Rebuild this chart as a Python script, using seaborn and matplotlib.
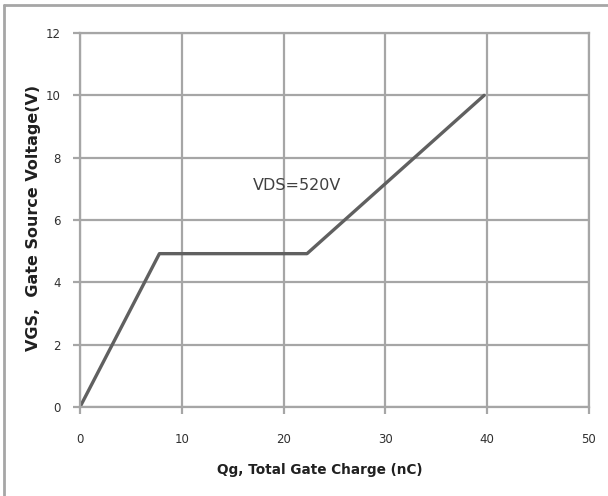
import numpy as np
import pandas as pd
import matplotlib
matplotlib.use('Agg')
import matplotlib.pyplot as plt
import seaborn as sns
from matplotlib.lines import Line2D

qg = [0, 7.8, 22.3, 39.7]
vgs = [0, 4.92, 4.92, 10]
x_ticks = [0, 10, 20, 30, 40, 50]
y_ticks = [0, 2, 4, 6, 8, 10, 12]

sns.set_style('white')
plt.rcParams['font.family'] = ['DejaVu Sans']

grid_c = '#a6a6a6'
df = pd.DataFrame({'Qg': qg, 'VGS': vgs})

fig = plt.figure(figsize=(6.08, 4.96), dpi=100)
ax = fig.add_axes([80/608, 1-407/496, (589-80)/608, (407-33)/496])
sns.lineplot(data=df, x='Qg', y='VGS', ax=ax, color='#606060', linewidth=2.4, sort=False)

ax.set_xlim(0, 50)
ax.set_ylim(0, 12)
ax.set_xticks(x_ticks)
ax.set_yticks(y_ticks)
ax.grid(True, color=grid_c, linewidth=1.6)
for s in ax.spines.values():
    s.set_color(grid_c)
    s.set_linewidth(1.6)
ax.tick_params(axis='both', length=5, width=1.6, color=grid_c, labelsize=8.5, direction='out',
               bottom=True, left=True, labelcolor='#303030')
ax.tick_params(axis='x', pad=14)
ax.tick_params(axis='y', pad=9)
ax.set_xlabel('Qg, Total Gate Charge (nC)', fontsize=9.8, fontweight='bold', color='#202020')
ax.set_ylabel('VGS,  Gate Source Voltage(V)', fontsize=11.5, fontweight='bold', color='#202020')
ax.xaxis.label.set_va('center')
ax.yaxis.label.set_va('center')
ax.xaxis.set_label_coords(0.4705, -0.168)
ax.yaxis.set_label_coords(-0.0904, 0.505)
ax.text(21.3, 7.12, 'VDS=520V', fontsize=11.5, ha='center', va='center', color='#404040')

# outer frame (top and left edges visible)
fig.add_artist(Line2D([4/608, 4/608], [0, 1-5/496], color=grid_c, linewidth=2))
fig.add_artist(Line2D([4/608, 1], [1-5/496, 1-5/496], color=grid_c, linewidth=2))

fig.savefig('out.png', dpi=100)
